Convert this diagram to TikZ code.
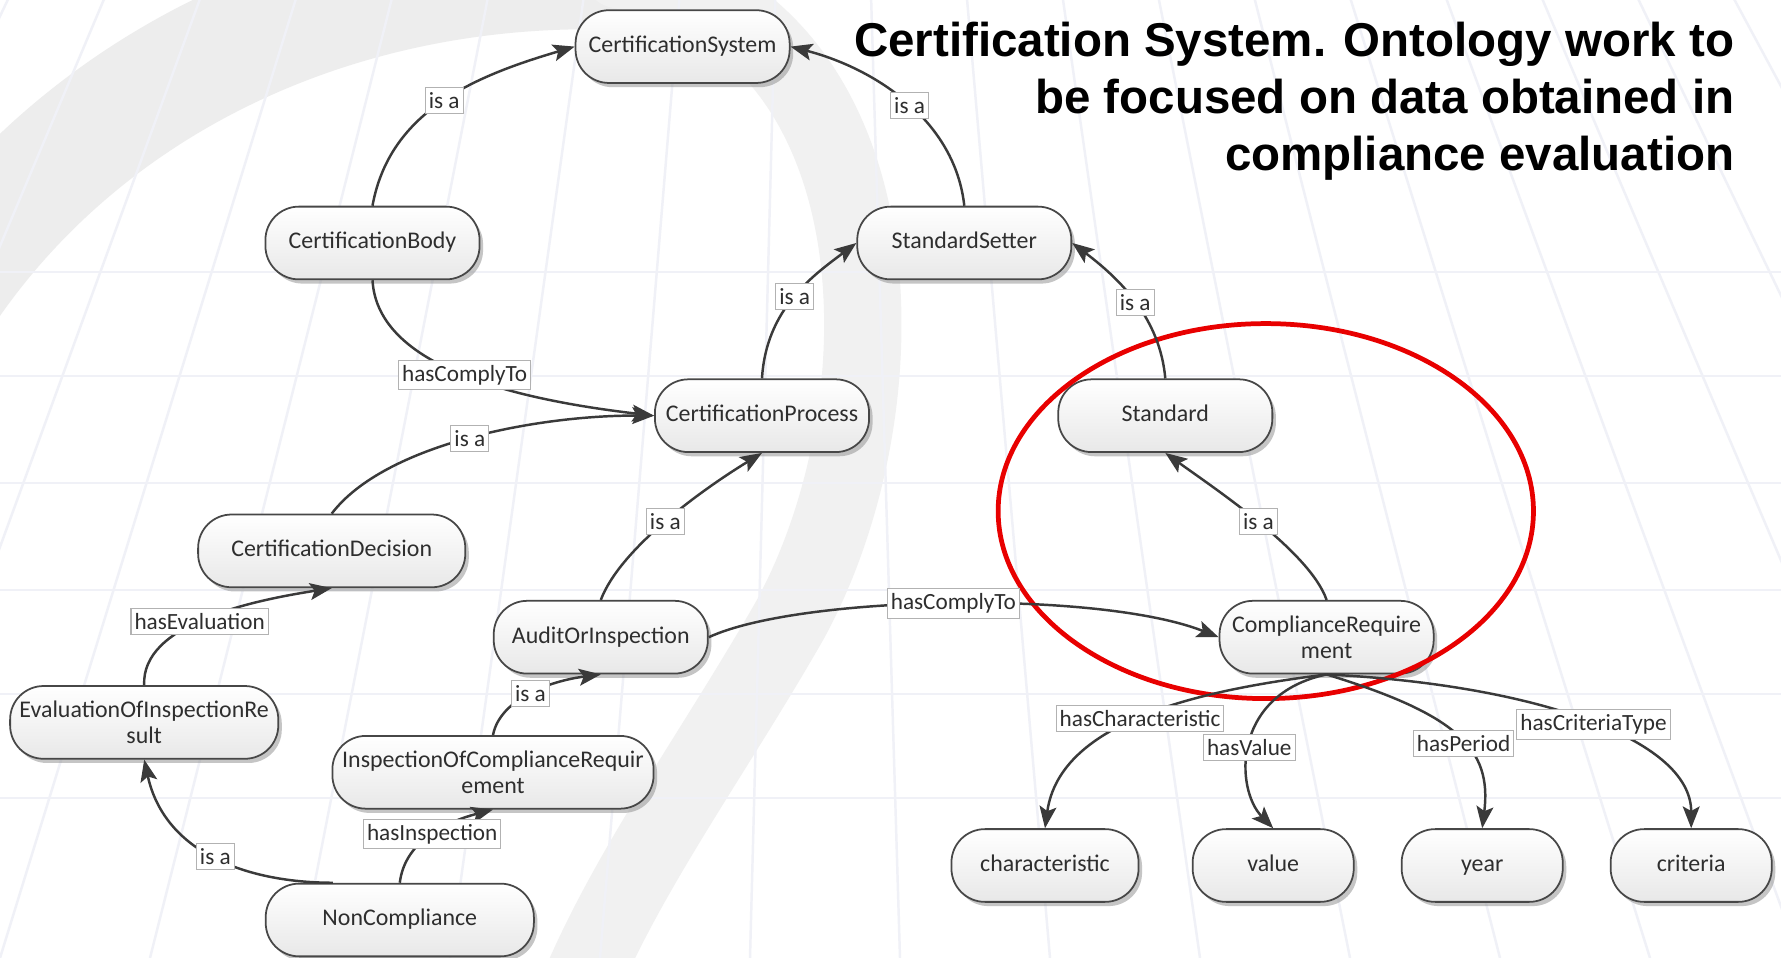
\documentclass[tikz,border=0pt]{standalone}
\usepackage{fontspec}
\setmainfont{Carlito}
\newfontfamily\titlefont{Liberation Sans}
\usetikzlibrary{arrows.meta,shadows}
\definecolor{edgecol}{HTML}{3A3A3A}
\definecolor{bordcol}{HTML}{474747}
\definecolor{txtcol}{HTML}{2E2E2E}
\definecolor{gridcol}{HTML}{F0F1F7}
\definecolor{swooshA}{HTML}{EDEDED}
\definecolor{swooshB}{HTML}{F1F1F1}
\definecolor{ringred}{HTML}{E80000}
\begin{document}
\begin{tikzpicture}[x=0.01cm,y=-0.01cm,
  cls/.style={draw=bordcol, line width=0.5pt, rounded corners=9.5pt,
    minimum width=#1, minimum height=0.727cm, top color=white, bottom color=black!9,
    drop shadow={shadow xshift=1pt, shadow yshift=-1.2pt, opacity=0.5, fill=black!45},
    font=\fontsize{6.8}{7.4}\selectfont, text=txtcol, align=center, inner sep=1pt},
  cls/.default=2.14cm,
  sl/.style={text height=4.9pt, text depth=1.5pt},
  conn/.style={draw=edgecol, line width=0.7pt, -{Stealth[length=6.2pt,width=4.8pt,inset=1.3pt]}},
  lbl/.style={fill=white, draw=black!30, line width=0.3pt, inner xsep=1pt, inner ysep=1.4pt,
    font=\fontsize{6.6}{7}\selectfont, text=txtcol},
  ttl/.style={anchor=base east, inner sep=0pt, font=\titlefont\bfseries\fontsize{13.5}{16}\selectfont},
  gridline/.style={draw=gridcol, line width=0.7pt}
]
\useasboundingbox (0,0) rectangle (1781,958);
\fill[white] (0,0) rectangle (1781,958);
% faint background watermark
\begin{scope}
\clip (0,0) rectangle (1781,958);
\draw[swooshA, line width=34pt, line cap=round] (-80,330) .. controls (60,90) and (330,-40) .. (620,-30);
\draw[swooshB, line width=22pt, line cap=round] (620,-30) .. controls (900,20) and (910,400) .. (790,620) .. controls (710,760) and (620,880) .. (570,1010);
\foreach \yy in {272,376,483,590,694,798} \draw[gridline] (0,\yy) -- (1781,\yy);
\foreach \xb in {-450,-300,...,2250} \draw[gridline] (820,-1700) -- (\xb,958);
\end{scope}
% title
\node[ttl] (t1) at (1735,57) {Certification System. Ontology work to};
\node[ttl] (t2) at (1735,114) {be focused on data obtained in};
\node[ttl] (t3) at (1735,171) {compliance evaluation};
% nodes
\node[cls,sl] (CS) at (682.6,46.6) {CertificationSystem};
\node[cls,sl] (CB) at (372.5,243) {CertificationBody};
\node[cls,sl] (SS) at (964.3,243) {StandardSetter};
\node[cls,sl] (CP) at (762,415.7) {CertificationProcess};
\node[cls,sl] (ST) at (1165.3,415.7) {Standard};
\node[cls=2.67cm,sl] (CD) at (331.7,550.9) {CertificationDecision};
\node[cls,sl] (AI) at (600.8,637.2) {AuditOrInspection};
\node[cls] (CR) at (1326.6,637.2) {ComplianceRequire\\ment};
\node[cls=2.68cm] (EV) at (144.2,722.4) {EvaluationOfInspectionRe\\sult};
\node[cls=3.21cm] (IC) at (493,772.3) {InspectionOfComplianceRequir\\ement};
\node[cls=2.68cm,sl] (NC) at (399.8,920) {NonCompliance};
\node[cls=1.87cm,sl] (CH) at (1045,865.5) {characteristic};
\node[cls=1.61cm,sl] (VA) at (1273.2,865.5) {value};
\node[cls=1.61cm,sl] (YE) at (1482.2,865.5) {year};
\node[cls=1.61cm,sl] (CRI) at (1691.2,865.5) {criteria};
% highlight ring
\draw[ringred, line width=1.35pt] (1265.8,511.1) ellipse [x radius=2.675cm, y radius=1.874cm];
% connectors
\draw[conn] (CB.north) .. controls +(17.5,-96.7) and +(-95.9,28.4) .. (CS.west) node[lbl,pos=0.5] {is a};
\draw[conn] (SS.north) .. controls +(-9.3,-85) and +(85,22) .. (CS.east) node[lbl,pos=0.48] {is a};
\draw[conn] (CP.north) .. controls +(4,-70) and +(-42.6,32) .. (SS.west) node[lbl,pos=0.5] {is a};
\draw[conn] (ST.north) .. controls +(-5.3,-59.4) and +(49,37) .. (SS.east) node[lbl,pos=0.5] {is a};
\draw[conn] (CB.south) .. controls +(5,88) and +(-134.7,-15.7) .. (CP.west) node[lbl,pos=0.5] {hasComplyTo};
\draw[conn] (CD.north) .. controls +(53.3,-70) and +(-114.7,-0.7) .. (CP.west) node[lbl,pos=0.5] {is a};
\draw[conn] (AI.north) .. controls +(19.2,-50.9) and +(-62,38) .. (CP.south) node[lbl,pos=0.5] {is a};
\draw[conn] (CR.north) .. controls +(-16.6,-48) and +(50,36) .. (ST.south) node[lbl,pos=0.5] {is a};
\draw[conn] (AI.east) .. controls +(91.8,-42.2) and +(-119.3,-47.2) .. (CR.west) node[lbl,pos=0.5] {hasComplyTo};
\draw[conn] (EV.north) .. controls +(-3,-61) and +(-81.7,12.8) .. (CD.south) node[lbl,pos=0.47] {hasEvaluation};
\draw[conn] (IC.north) .. controls +(7,-36) and +(-50.8,6.5) .. (AI.south) node[lbl,pos=0.5] {is a};
\draw[conn] ([xshift=-19pt]NC.north) .. controls +(-82.8,0) and +(20.8,95) .. (EV.south) node[lbl,pos=0.5] {is a};
\draw[conn] (NC.north) .. controls +(5.2,-43.6) and +(-43,11.3) .. (IC.south) node[lbl,pos=0.5] {hasInspection};
\draw[conn] (CR.south) .. controls +(-120,15) and +(15,-109.2) .. (CH.north) node[lbl,pos=0.52] {hasCharacteristic};
\draw[conn] (CR.south) .. controls +(-95,20) and +(-38.2,-39.2) .. (VA.north) node[lbl,pos=0.52] {hasValue};
\draw[conn] (CR.south) .. controls +(130,40) and +(10,-80) .. (YE.north) node[lbl,pos=0.55] {hasPeriod};
\draw[conn] (CR.south) .. controls +(205,10) and +(0,-90) .. (CRI.north) node[lbl,pos=0.52] {hasCriteriaType};
\end{tikzpicture}
\end{document}
